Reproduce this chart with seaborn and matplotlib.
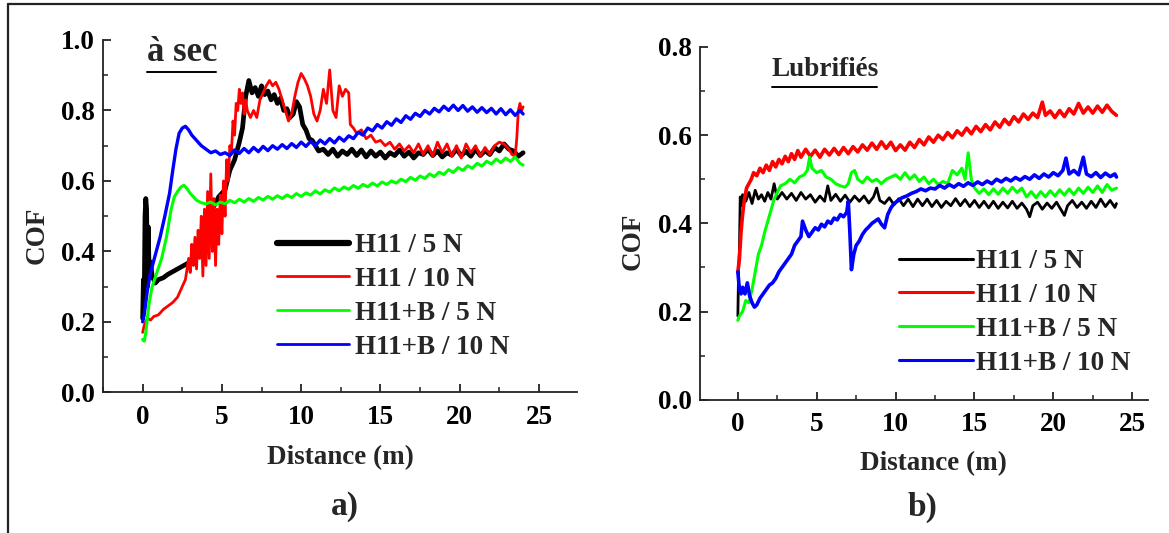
import matplotlib
matplotlib.use('Agg')
import matplotlib.pyplot as plt
from matplotlib.lines import Line2D
from matplotlib.ticker import MultipleLocator
import seaborn as sns

# ---- dry sliding ("à sec") ----
dry_h11_5n_x = [0.0, 0.05, 0.1, 0.15, 0.2, 0.25, 0.3, 0.35, 0.4, 0.45, 0.5, 0.6, 0.7, 0.8, 1.0, 1.3, 1.6,
                2.0, 2.4, 2.8, 3.2, 3.6, 4.0, 4.4, 4.8, 5.2, 5.5, 5.8, 6.1, 6.3, 6.5, 6.7, 6.9, 7.1, 7.3,
                7.5, 7.7, 7.9, 8.1, 8.3, 8.5, 8.7, 8.9, 9.1, 9.3, 9.5, 9.7, 9.9, 10.1, 10.3, 10.5, 10.7,
                10.9, 11.1, 11.4, 11.7, 12.0, 12.3, 12.6, 12.9, 13.2, 13.5, 13.8, 14.1, 14.4, 14.7, 15.0,
                15.3, 15.6, 15.9, 16.2, 16.5, 16.8, 17.1, 17.4, 17.7, 18.0, 18.3, 18.6, 18.9, 19.2, 19.5,
                19.8, 20.1, 20.4, 20.7, 21.0, 21.3, 21.6, 21.9, 22.2, 22.5, 22.8, 23.1, 23.4, 23.7, 24.0]
dry_h11_5n_y = [0.21, 0.32, 0.26, 0.50, 0.55, 0.52, 0.30, 0.47, 0.36, 0.34, 0.37, 0.33, 0.32, 0.31, 0.32,
                0.325, 0.335, 0.345, 0.355, 0.365, 0.375, 0.41, 0.46, 0.52, 0.555, 0.575, 0.63, 0.66,
                0.71, 0.75, 0.84, 0.885, 0.85, 0.865, 0.84, 0.87, 0.845, 0.855, 0.83, 0.845, 0.82, 0.835,
                0.80, 0.805, 0.78, 0.79, 0.825, 0.81, 0.76, 0.745, 0.72, 0.715, 0.70, 0.685, 0.69, 0.675,
                0.69, 0.67, 0.685, 0.675, 0.69, 0.672, 0.688, 0.668, 0.685, 0.67, 0.682, 0.665, 0.68,
                0.672, 0.688, 0.67, 0.682, 0.665, 0.68, 0.675, 0.69, 0.672, 0.685, 0.668, 0.68, 0.673,
                0.69, 0.672, 0.684, 0.67, 0.69, 0.672, 0.686, 0.675, 0.695, 0.685, 0.705, 0.69, 0.685,
                0.67, 0.68]

dry_h11_10n_x = [0.0, 0.1, 0.2, 0.3, 0.5, 0.7, 1.0, 1.3, 1.6, 1.9, 2.2, 2.5, 2.7, 2.9, 3.0, 3.1, 3.2, 3.3,
                 3.4, 3.5, 3.6, 3.7, 3.8, 3.9, 4.0, 4.1, 4.2, 4.3, 4.4, 4.5, 4.6, 4.7, 4.8, 4.9, 5.0, 5.1,
                 5.2, 5.3, 5.4, 5.5, 5.6, 5.7, 5.8, 5.9, 6.0, 6.1, 6.2, 6.3, 6.4, 6.5, 6.6, 6.8, 7.0, 7.2,
                 7.4, 7.6, 7.8, 8.0, 8.2, 8.4, 8.6, 8.8, 9.0, 9.2, 9.4, 9.6, 9.8, 10.0, 10.2, 10.4, 10.6,
                 10.8, 11.0, 11.2, 11.4, 11.6, 11.8, 12.0, 12.2, 12.4, 12.6, 12.8, 13.0, 13.1, 13.3, 13.5,
                 13.8, 14.1, 14.4, 14.7, 15.0, 15.3, 15.6, 15.9, 16.2, 16.5, 16.8, 17.1, 17.4, 17.7, 18.0,
                 18.3, 18.6, 18.9, 19.2, 19.5, 19.8, 20.1, 20.4, 20.7, 21.0, 21.3, 21.6, 21.9, 22.2, 22.5,
                 22.8, 23.1, 23.3, 23.5, 23.6, 23.7, 23.8, 23.9, 24.0]
dry_h11_10n_y = [0.17, 0.19, 0.20, 0.21, 0.205, 0.215, 0.22, 0.235, 0.245, 0.255, 0.27, 0.30, 0.32, 0.38,
                 0.34, 0.42, 0.36, 0.44, 0.35, 0.46, 0.38, 0.50, 0.33, 0.52, 0.36, 0.57, 0.38, 0.62, 0.40,
                 0.55, 0.36, 0.52, 0.42, 0.56, 0.45, 0.60, 0.50, 0.66, 0.60, 0.70, 0.68, 0.77, 0.73, 0.82,
                 0.80, 0.86, 0.82, 0.85, 0.79, 0.83, 0.80, 0.78, 0.80, 0.78, 0.83, 0.85, 0.87, 0.885, 0.87,
                 0.88, 0.86, 0.83, 0.80, 0.77, 0.79, 0.84, 0.88, 0.905, 0.89, 0.87, 0.84, 0.79, 0.77, 0.80,
                 0.86, 0.82, 0.915, 0.80, 0.78, 0.87, 0.84, 0.86, 0.85, 0.76, 0.75, 0.735, 0.745, 0.72,
                 0.73, 0.71, 0.715, 0.70, 0.71, 0.69, 0.705, 0.685, 0.70, 0.68, 0.705, 0.675, 0.70, 0.67,
                 0.71, 0.68, 0.705, 0.67, 0.70, 0.665, 0.705, 0.68, 0.70, 0.67, 0.695, 0.675, 0.70, 0.71,
                 0.705, 0.69, 0.675, 0.67, 0.72, 0.80, 0.82, 0.80, 0.81]

dry_b_5n_x = [0.0, 0.1, 0.2, 0.4, 0.6, 0.9, 1.2, 1.5, 1.8, 2.0, 2.2, 2.4, 2.6, 2.8, 3.0, 3.2, 3.4, 3.7, 4.0,
              4.3, 4.6, 4.9, 5.2, 5.5, 5.8, 6.1, 6.4, 6.7, 7.0, 7.3, 7.6, 7.9, 8.2, 8.5, 8.8, 9.1, 9.4, 9.7,
              10.0, 10.3, 10.6, 10.9, 11.2, 11.5, 11.8, 12.1, 12.4, 12.7, 13.0, 13.3, 13.6, 13.9, 14.2,
              14.5, 14.8, 15.1, 15.4, 15.7, 16.0, 16.3, 16.6, 16.9, 17.2, 17.5, 17.8, 18.1, 18.4, 18.7,
              19.0, 19.3, 19.6, 19.9, 20.2, 20.5, 20.8, 21.1, 21.4, 21.7, 22.0, 22.3, 22.6, 22.9, 23.2,
              23.5, 23.8, 24.0]
dry_b_5n_y = [0.15, 0.145, 0.17, 0.25, 0.30, 0.34, 0.38, 0.44, 0.52, 0.555, 0.57, 0.582, 0.588, 0.578,
              0.565, 0.555, 0.545, 0.538, 0.535, 0.54, 0.532, 0.54, 0.535, 0.545, 0.538, 0.548, 0.54, 0.55,
              0.542, 0.553, 0.546, 0.556, 0.548, 0.558, 0.55, 0.56, 0.553, 0.564, 0.556, 0.566, 0.56, 0.572,
              0.563, 0.575, 0.568, 0.58, 0.572, 0.583, 0.576, 0.587, 0.579, 0.59, 0.583, 0.594, 0.586,
              0.597, 0.59, 0.60, 0.594, 0.605, 0.598, 0.61, 0.602, 0.614, 0.607, 0.62, 0.612, 0.625, 0.618,
              0.632, 0.624, 0.638, 0.63, 0.643, 0.636, 0.65, 0.642, 0.656, 0.648, 0.662, 0.652, 0.665,
              0.655, 0.668, 0.65, 0.645]

dry_b_10n_x = [0.0, 0.1, 0.3, 0.5, 0.8, 1.1, 1.4, 1.7, 1.9, 2.1, 2.3, 2.5, 2.7, 2.9, 3.1, 3.4, 3.7, 4.0,
               4.3, 4.6, 4.9, 5.2, 5.5, 5.8, 6.1, 6.4, 6.7, 7.0, 7.3, 7.6, 7.9, 8.2, 8.5, 8.8, 9.1, 9.4,
               9.7, 10.0, 10.3, 10.6, 10.9, 11.2, 11.5, 11.8, 12.1, 12.4, 12.7, 13.0, 13.3, 13.6, 13.9,
               14.2, 14.5, 14.8, 15.1, 15.4, 15.7, 16.0, 16.3, 16.6, 16.9, 17.2, 17.5, 17.8, 18.1, 18.4,
               18.7, 19.0, 19.3, 19.6, 19.9, 20.2, 20.5, 20.8, 21.1, 21.4, 21.7, 22.0, 22.3, 22.6, 22.9,
               23.2, 23.5, 23.8, 24.0]
dry_b_10n_y = [0.20, 0.22, 0.29, 0.34, 0.39, 0.44, 0.50, 0.565, 0.63, 0.69, 0.735, 0.75, 0.755, 0.745,
               0.73, 0.715, 0.70, 0.69, 0.68, 0.685, 0.675, 0.68, 0.672, 0.688, 0.678, 0.692, 0.68, 0.695,
               0.683, 0.698, 0.686, 0.70, 0.69, 0.703, 0.692, 0.706, 0.695, 0.71, 0.698, 0.712, 0.70, 0.716,
               0.705, 0.72, 0.708, 0.724, 0.713, 0.728, 0.72, 0.738, 0.73, 0.75, 0.742, 0.76, 0.75, 0.768,
               0.758, 0.776, 0.766, 0.785, 0.775, 0.792, 0.783, 0.80, 0.79, 0.806, 0.796, 0.812, 0.80,
               0.815, 0.80, 0.814, 0.798, 0.81, 0.795, 0.808, 0.794, 0.806, 0.79, 0.805, 0.788, 0.802,
               0.786, 0.80, 0.79]

# ---- lubricated ("Lubrifiés") ----
lub_h11_5n_x = [0.0, 0.05, 0.1, 0.15, 0.2, 0.3, 0.5, 0.7, 0.9, 1.1, 1.3, 1.5, 1.7, 1.9, 2.1, 2.3, 2.5, 2.8,
                3.1, 3.4, 3.7, 4.0, 4.3, 4.6, 4.9, 5.2, 5.5, 5.7, 5.9, 6.2, 6.5, 6.8, 7.1, 7.4, 7.7, 8.0,
                8.3, 8.6, 8.8, 9.0, 9.3, 9.6, 9.9, 10.2, 10.5, 10.8, 11.1, 11.4, 11.7, 12.0, 12.3, 12.6,
                12.9, 13.2, 13.5, 13.8, 14.1, 14.4, 14.7, 15.0, 15.3, 15.6, 15.9, 16.2, 16.5, 16.8, 17.1,
                17.4, 17.7, 18.0, 18.3, 18.5, 18.7, 19.0, 19.3, 19.6, 19.9, 20.2, 20.5, 20.7, 20.9, 21.2,
                21.5, 21.8, 22.1, 22.4, 22.7, 23.0, 23.3, 23.6, 23.9, 24.0]
lub_h11_5n_y = [0.19, 0.30, 0.34, 0.46, 0.44, 0.465, 0.45, 0.47, 0.445, 0.475, 0.455, 0.465, 0.45, 0.47,
                0.455, 0.49, 0.455, 0.47, 0.455, 0.468, 0.452, 0.47, 0.455, 0.465, 0.448, 0.462, 0.45, 0.485,
                0.452, 0.466, 0.45, 0.464, 0.448, 0.462, 0.45, 0.462, 0.446, 0.46, 0.48, 0.452, 0.445, 0.458,
                0.442, 0.456, 0.44, 0.455, 0.438, 0.455, 0.44, 0.455, 0.438, 0.452, 0.436, 0.45, 0.44, 0.456,
                0.44, 0.454, 0.438, 0.452, 0.436, 0.45, 0.435, 0.45, 0.434, 0.448, 0.435, 0.45, 0.434, 0.446,
                0.432, 0.415, 0.44, 0.448, 0.432, 0.446, 0.434, 0.448, 0.43, 0.418, 0.44, 0.452, 0.436, 0.448,
                0.434, 0.45, 0.436, 0.455, 0.438, 0.452, 0.436, 0.445]

lub_h11_10n_x = [0.0, 0.1, 0.2, 0.3, 0.4, 0.55, 0.7, 0.85, 1.0, 1.2, 1.4, 1.6, 1.8, 2.0, 2.2, 2.4, 2.6,
                 2.8, 3.0, 3.2, 3.4, 3.6, 3.8, 4.0, 4.3, 4.6, 4.9, 5.2, 5.5, 5.8, 6.1, 6.4, 6.7, 7.0, 7.3,
                 7.6, 7.9, 8.2, 8.5, 8.8, 9.1, 9.4, 9.7, 10.0, 10.3, 10.6, 10.9, 11.2, 11.5, 11.8, 12.1,
                 12.4, 12.7, 13.0, 13.3, 13.6, 13.9, 14.2, 14.5, 14.8, 15.1, 15.4, 15.7, 16.0, 16.3, 16.6,
                 16.9, 17.2, 17.5, 17.8, 18.1, 18.4, 18.7, 19.0, 19.3, 19.5, 19.8, 20.1, 20.4, 20.7, 21.0,
                 21.3, 21.6, 21.9, 22.2, 22.5, 22.8, 23.1, 23.4, 23.7, 24.0]
lub_h11_10n_y = [0.29, 0.32, 0.38, 0.42, 0.45, 0.48, 0.49, 0.50, 0.515, 0.508, 0.525, 0.515, 0.532, 0.52,
                 0.54, 0.528, 0.545, 0.535, 0.552, 0.54, 0.558, 0.545, 0.565, 0.55, 0.568, 0.552, 0.566,
                 0.55, 0.568, 0.555, 0.57, 0.556, 0.572, 0.558, 0.574, 0.562, 0.578, 0.566, 0.582, 0.568,
                 0.585, 0.57, 0.584, 0.565, 0.578, 0.566, 0.584, 0.572, 0.59, 0.578, 0.596, 0.584, 0.60,
                 0.59, 0.606, 0.594, 0.61, 0.60, 0.616, 0.603, 0.62, 0.608, 0.624, 0.612, 0.63, 0.618, 0.636,
                 0.624, 0.642, 0.63, 0.648, 0.636, 0.65, 0.64, 0.675, 0.645, 0.655, 0.64, 0.656, 0.642, 0.66,
                 0.648, 0.672, 0.65, 0.664, 0.65, 0.666, 0.652, 0.668, 0.654, 0.645]

lub_b_5n_x = [0.0, 0.1, 0.3, 0.5, 0.7, 0.9, 1.1, 1.3, 1.5, 1.7, 1.9, 2.1, 2.3, 2.5, 2.7, 3.0, 3.3, 3.6, 3.9,
              4.2, 4.4, 4.55, 4.7, 5.0, 5.3, 5.6, 5.9, 6.2, 6.5, 6.8, 7.0, 7.2, 7.4, 7.6, 7.9, 8.2, 8.5,
              8.8, 9.1, 9.4, 9.7, 10.0, 10.3, 10.6, 10.9, 11.2, 11.5, 11.8, 12.1, 12.4, 12.7, 13.0, 13.3,
              13.6, 13.9, 14.2, 14.4, 14.6, 14.8, 15.0, 15.3, 15.6, 15.9, 16.2, 16.5, 16.8, 17.1, 17.4,
              17.7, 18.0, 18.3, 18.6, 18.9, 19.2, 19.5, 19.8, 20.1, 20.4, 20.7, 21.0, 21.3, 21.6, 21.9,
              22.2, 22.5, 22.8, 23.1, 23.4, 23.7, 24.0]
lub_b_5n_y = [0.18, 0.19, 0.20, 0.225, 0.22, 0.25, 0.29, 0.33, 0.35, 0.38, 0.405, 0.43, 0.455, 0.47, 0.485,
              0.49, 0.50, 0.492, 0.505, 0.51, 0.52, 0.55, 0.525, 0.515, 0.52, 0.505, 0.50, 0.49, 0.485,
              0.482, 0.49, 0.515, 0.52, 0.50, 0.492, 0.505, 0.495, 0.50, 0.49, 0.50, 0.505, 0.51, 0.50,
              0.515, 0.50, 0.51, 0.495, 0.505, 0.49, 0.50, 0.488, 0.495, 0.49, 0.52, 0.51, 0.525, 0.50,
              0.56, 0.50, 0.48, 0.468, 0.478, 0.465, 0.478, 0.466, 0.48, 0.468, 0.482, 0.47, 0.48, 0.46,
              0.472, 0.458, 0.472, 0.46, 0.474, 0.462, 0.476, 0.464, 0.478, 0.465, 0.48, 0.468, 0.482,
              0.47, 0.485, 0.47, 0.488, 0.475, 0.48]

lub_b_10n_x = [0.0, 0.05, 0.1, 0.2, 0.3, 0.45, 0.6, 0.75, 0.9, 1.05, 1.2, 1.4, 1.6, 1.8, 2.0, 2.2, 2.4, 2.6,
               2.8, 3.0, 3.2, 3.4, 3.6, 3.8, 4.0, 4.1, 4.3, 4.5, 4.7, 4.9, 5.1, 5.3, 5.5, 5.7, 5.9, 6.1,
               6.3, 6.5, 6.7, 6.9, 7.0, 7.1, 7.2, 7.35, 7.5, 7.7, 7.9, 8.1, 8.3, 8.5, 8.7, 8.9, 9.1, 9.3,
               9.5, 9.7, 9.9, 10.1, 10.4, 10.7, 11.0, 11.3, 11.6, 11.9, 12.2, 12.5, 12.8, 13.1, 13.4, 13.7,
               14.0, 14.3, 14.6, 14.9, 15.2, 15.5, 15.8, 16.1, 16.4, 16.7, 17.0, 17.3, 17.6, 17.9, 18.2,
               18.5, 18.8, 19.1, 19.4, 19.7, 20.0, 20.3, 20.6, 20.8, 21.0, 21.3, 21.6, 21.9, 22.1, 22.4,
               22.7, 23.0, 23.3, 23.6, 23.9, 24.0]
lub_b_10n_y = [0.29, 0.27, 0.25, 0.24, 0.255, 0.24, 0.265, 0.235, 0.22, 0.21, 0.215, 0.23, 0.24, 0.25, 0.26,
               0.265, 0.275, 0.29, 0.30, 0.31, 0.32, 0.33, 0.35, 0.36, 0.37, 0.405, 0.385, 0.37, 0.38, 0.39,
               0.385, 0.398, 0.392, 0.405, 0.40, 0.412, 0.408, 0.42, 0.415, 0.425, 0.45, 0.38, 0.295, 0.33,
               0.35, 0.36, 0.375, 0.385, 0.392, 0.40, 0.405, 0.41, 0.398, 0.39, 0.42, 0.435, 0.445, 0.45,
               0.458, 0.462, 0.468, 0.472, 0.478, 0.474, 0.48, 0.478, 0.486, 0.48, 0.488, 0.482, 0.49,
               0.484, 0.492, 0.486, 0.494, 0.488, 0.496, 0.49, 0.50, 0.494, 0.502, 0.496, 0.504, 0.498,
               0.506, 0.50, 0.51, 0.502, 0.512, 0.505, 0.515, 0.508, 0.52, 0.548, 0.512, 0.52, 0.51, 0.55,
               0.512, 0.506, 0.515, 0.504, 0.514, 0.506, 0.512, 0.505]

labels = ['H11 / 5 N', 'H11 / 10 N', 'H11+B / 5 N', 'H11+B / 10 N']
colors = ['#000000', '#ff0000', '#00ff00', '#0000ff']

W, H = 1169, 533


def fx(px):
    return px / W


def fy(py):
    return 1 - py / H


sns.set_theme(style="ticks")
plt.rcParams['font.family'] = ['Liberation Serif', 'DejaVu Serif']
plt.rcParams['font.weight'] = 'bold'
plt.rcParams['axes.labelweight'] = 'bold'

fig = plt.figure(figsize=(11.69, 5.33), dpi=100)
fig.patch.set_facecolor('white')

ax1 = fig.add_axes([fx(103), fy(392.3), fx(474), 352.3 / H])
ax2 = fig.add_axes([fx(700), fy(399.7), fx(448), 352.7 / H])

dry = [(dry_h11_5n_x, dry_h11_5n_y), (dry_h11_10n_x, dry_h11_10n_y),
       (dry_b_5n_x, dry_b_5n_y), (dry_b_10n_x, dry_b_10n_y)]
lub = [(lub_h11_5n_x, lub_h11_5n_y), (lub_h11_10n_x, lub_h11_10n_y),
       (lub_b_5n_x, lub_b_5n_y), (lub_b_10n_x, lub_b_10n_y)]

# draw order: black and red under green / blue like the original
dry_widths = [3.4, 2.0, 2.2, 2.4]
for i in [0, 1, 3, 2]:
    x, y = dry[i]
    sns.lineplot(x=x, y=y, ax=ax1, color=colors[i], linewidth=dry_widths[i],
                 sort=False, estimator=None)
lub_widths = [2.0, 2.6, 2.2, 2.6]
for i in [0, 1, 2, 3]:
    x, y = lub[i]
    sns.lineplot(x=x, y=y, ax=ax2, color=colors[i], linewidth=lub_widths[i],
                 sort=False, estimator=None)

for ax, ylim in [(ax1, (0, 1.0)), (ax2, (0, 0.8))]:
    ax.set_ylim(*ylim)
    ax.set_facecolor('white')
    sns.despine(ax=ax)
    for s in ['left', 'bottom']:
        ax.spines[s].set_linewidth(1.3)
        ax.spines[s].set_color('#222222')
    ax.xaxis.set_major_locator(MultipleLocator(5))
    ax.xaxis.set_minor_locator(MultipleLocator(2.5))
    ax.yaxis.set_major_locator(MultipleLocator(0.2))
    ax.yaxis.set_minor_locator(MultipleLocator(0.1))
    ax.tick_params(which='major', direction='in', length=6, width=1.3, colors='#222222',
                   labelsize=19.5, labelcolor='black')
    ax.tick_params(which='minor', direction='in', length=3.5, width=1.1, colors='#222222')
    ax.tick_params(axis='x', which='major', pad=9)
    ax.tick_params(axis='y', which='major', pad=6)
    ax.yaxis.set_major_formatter(matplotlib.ticker.FormatStrFormatter('%.1f'))
    for t in ax.get_xticklabels() + ax.get_yticklabels():
        t.set_fontweight('bold')
    ax.set_xlabel('Distance (m)', fontsize=19.5, fontweight='bold')
    ax.set_ylabel('COF', fontsize=19.5, fontweight='bold')
    ax.xaxis.label.set_va('center')
    ax.yaxis.label.set_va('center')
    ax.grid(False)

ax1.set_xlim(-2.5, 27.4)
ax2.set_xlim(-2.4, 26.0)
ax1.xaxis.set_label_coords(0.5, -0.184)
ax1.yaxis.set_label_coords(-0.139, 0.447)
ax2.xaxis.set_label_coords(0.522, -0.182)
ax2.yaxis.set_label_coords(-0.15, 0.45)

# legends
leg_font = {'family': ['Liberation Serif'], 'weight': 'bold', 'size': 19.5}
h1 = [Line2D([], [], color=c, lw=w) for c, w in zip(colors, [4.5, 2.0, 2.0, 2.0])]
ax1.legend(h1, labels, loc='upper left', bbox_to_anchor=(fx(277), fy(233)),
           bbox_transform=fig.transFigure, frameon=False, prop=leg_font,
           handlelength=2.65, handletextpad=0.23, labelspacing=0.33, borderpad=0, borderaxespad=0)
h2 = [Line2D([], [], color=c, lw=2.2) for c in colors]
ax2.legend(h2, labels, loc='upper left', bbox_to_anchor=(fx(899), fy(249)),
           bbox_transform=fig.transFigure, frameon=False, prop=leg_font,
           handlelength=2.72, handletextpad=0.12, labelspacing=0.33, borderpad=0, borderaxespad=0)

# condition titles with underline
fig.text(fx(147), fy(60.7), 'à sec', fontsize=25, fontweight='bold', va='baseline', ha='left')
fig.add_artist(Line2D([fx(146.7), fx(216)], [fy(72.3), fy(72.3)], color='black', lw=1.4))
fig.text(fx(772), fy(76.5), 'Lubrifiés', fontsize=19.5, fontweight='bold', va='baseline', ha='left')
fig.add_artist(Line2D([fx(772.3), fx(876.5)], [fy(86.7), fy(86.7)], color='black', lw=1.4))

# panel letters
fig.text(fx(345), fy(507), 'a)', fontsize=24, fontweight='bold', va='center', ha='center')
fig.text(fx(922), fy(507), 'b)', fontsize=24, fontweight='bold', va='center', ha='center')

# frame remnants along the top and left edges
fig.add_artist(Line2D([fx(7.5), 1.0], [fy(3.5), fy(3.5)], color='#222222', lw=1.6))
fig.add_artist(Line2D([fx(8.3), fx(8.3)], [fy(3.5), 0.0], color='#222222', lw=1.6))

plt.savefig('out.png', dpi=100, facecolor='white')
plt.close()
